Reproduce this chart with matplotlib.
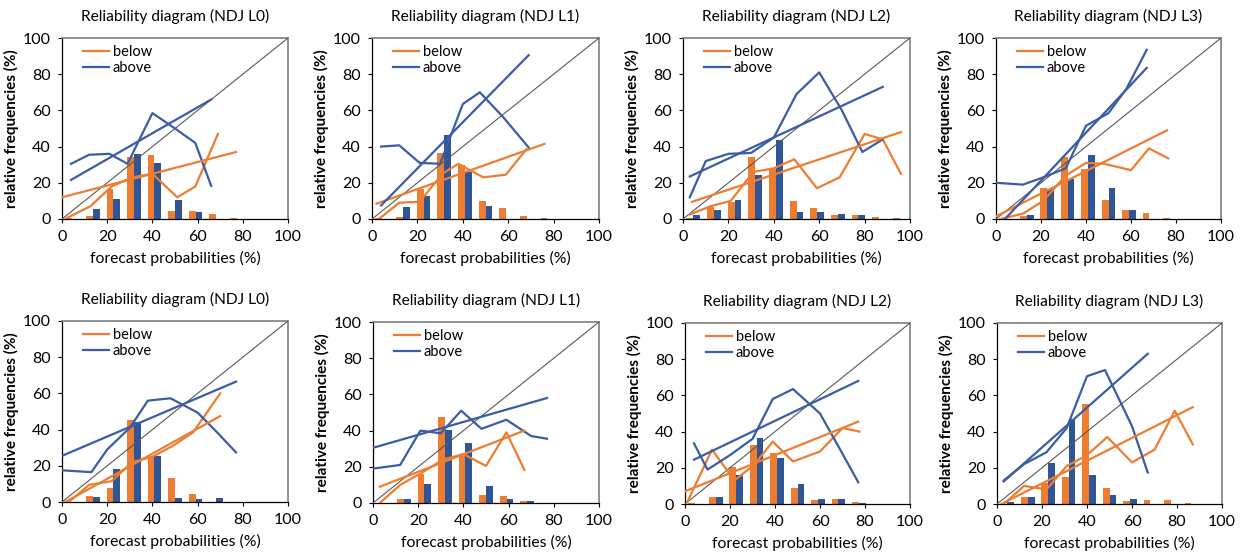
import numpy as np
import matplotlib
matplotlib.use("Agg")
import matplotlib.pyplot as plt

plt.rcParams['font.family'] = ['Lato', 'DejaVu Sans']

# titulos dos paineis (linha de cima e linha de baixo)
titles = ["Reliability diagram (NDJ L0)", "Reliability diagram (NDJ L1)",
          "Reliability diagram (NDJ L2)", "Reliability diagram (NDJ L3)",
          "Reliability diagram (NDJ L0)", "Reliability diagram (NDJ L1)",
          "Reliability diagram (NDJ L2)", "Reliability diagram (NDJ L3)"]

# 11 classes de probabilidade (histograma de frequencia das previsoes, %)
n_bins = 11
bar_below = [
    [0.5, 1.5, 16.5, 34.5, 35.2, 4.6, 4.2, 2.6, 0.7, 0, 0],
    [0.3, 1.1, 16.5, 36.3, 29.9, 10.1, 6.0, 1.8, 0.7, 0, 0],
    [0.7, 6.4, 9.4, 34.5, 27.9, 10.1, 6.0, 2.0, 2.0, 1.1, 0.7],
    [0, 1.5, 17.3, 34.3, 27.4, 10.7, 5.2, 3.3, 0.7, 0, 0],
    [0, 3.3, 7.9, 45.1, 25.4, 13.4, 4.6, 0, 0, 0, 0],
    [0, 2.4, 16.1, 47.7, 26.2, 4.2, 3.9, 0.9, 0, 0, 0],
    [0.7, 4.0, 20.7, 32.8, 28.4, 8.6, 2.2, 2.8, 1.1, 0, 0],
    [0, 3.7, 11.7, 14.7, 55.0, 9.0, 1.7, 2.2, 2.2, 0.7, 0],
]
bar_above = [
    [0, 5.5, 11.0, 36.0, 30.8, 10.6, 3.7, 0, 0, 0, 0],
    [0, 6.6, 12.5, 46.2, 25.7, 7.0, 0, 0, 0, 0, 0],
    [2.0, 4.8, 10.6, 24.4, 43.7, 4.0, 3.7, 2.9, 2.0, 0, 0],
    [0, 2.0, 16.8, 22.3, 35.5, 17.1, 4.8, 0, 0, 0, 0],
    [0, 2.9, 18.0, 44.2, 25.4, 2.4, 1.5, 2.4, 0, 0, 0],
    [0, 2.4, 10.6, 40.4, 33.0, 9.2, 2.4, 1.3, 0, 0, 0],
    [0, 4.0, 15.8, 36.3, 25.5, 11.2, 2.8, 2.8, 0.7, 0, 0],
    [1.0, 4.0, 22.6, 47.0, 15.8, 5.1, 2.8, 0, 0, 0, 0],
]

# curvas de confiabilidade (prob. prevista x frequencia observada)
below_x = [
    [2, 12.5, 22, 31, 40, 51, 59, 69],
    [3, 12, 21, 31, 38, 49, 59, 68],
    [3, 12, 21, 31, 40, 49, 59, 69, 80, 88, 96],
    [2, 12, 21, 31, 40, 48, 60, 68, 76.5],
    [3, 12, 22, 31, 40, 49, 58, 70],
    [3, 12, 22, 31, 40, 50, 59, 67],
    [1, 12, 22, 31, 39, 48, 60, 70, 77.5],
    [3, 12, 22, 31, 40, 49, 60, 70, 79, 87],
]
below_y = [
    [0.5, 7, 18, 23, 25, 12, 18, 47],
    [0, 9, 9.5, 25, 30.5, 23, 24.5, 38.5],
    [2.5, 7, 10, 26, 28, 33, 17, 23, 47, 44, 25],
    [0, 3, 10, 24, 31, 30.5, 27, 39, 33.5],
    [0, 9.5, 11.5, 22, 25, 31, 38.5, 60],
    [0, 10, 17, 24, 27, 20.5, 39, 18.3],
    [1, 30, 13, 22, 34.5, 23.5, 29, 42, 40],
    [0, 10, 8, 21, 27, 37, 23, 30, 51.5, 33],
]
above_x = [
    [4, 12, 21, 29, 40, 50, 59, 66],
    [4, 12, 21, 30, 40, 47.5, 58, 69],
    [3, 10, 20, 30, 40, 50, 60, 70, 79, 88],
    [0, 12, 21, 31, 40, 50, 58, 67],
    [0, 13, 20, 30, 38, 48, 60, 69, 77],
    [0, 12, 21, 30, 39, 48, 59, 70, 77],
    [4, 10, 20, 30, 39, 48, 60, 69, 77],
    [3, 12, 22, 31, 40, 48, 60, 67],
]
above_y = [
    [30.5, 35.5, 36, 30.5, 58.5, 50, 42, 18.3],
    [40, 40.7, 31, 30.5, 63.5, 70, 56, 39.5],
    [12, 32, 36, 36.5, 45, 69, 81, 60, 37, 44],
    [20, 19, 23, 28, 51.5, 58.5, 72, 93.5],
    [17.5, 16.5, 29, 41, 56, 57.3, 49.4, 38, 27.4],
    [19, 21, 40, 38.5, 51, 41, 46, 37, 35.5],
    [33.5, 19, 27, 36, 58, 63.5, 50, 30, 12],
    [13, 22, 28.6, 42, 70.6, 74, 43, 17.4],
]

# retas de regressao (extremos)
fit_below_x = [[0, 77], [2, 76], [4, 96], [0, 76], [1.5, 70], [3, 67], [0, 77], [2, 87]]
fit_below_y = [[12, 37], [8.5, 41.5], [9.5, 48], [1.5, 49], [0, 47.5], [9, 40], [7, 45.5], [0, 53.5]]
fit_above_x = [[4, 66], [4, 69], [3, 88], [4, 67], [0, 77], [0, 77], [4, 77], [3, 67]]
fit_above_y = [[21.6, 66], [7.5, 90.5], [23.5, 73], [0, 83.5], [25.5, 66.5], [30.5, 58], [24.5, 68], [12.5, 83]]

orange = '#ED7D31'
blue = '#2F5597'
line_blue = '#3A5DA5'

W, H = 1244, 558
# caixas dos eixos em pixels (esq, topo, dir, base)
boxes = [(62, 38, 288, 219), (372, 38, 599, 219), (683, 38, 910, 219), (996, 38, 1221, 219),
         (62, 321, 288, 502), (373, 322, 599, 503), (685, 323, 910, 504), (997, 323, 1222, 504)]

fig = plt.figure(figsize=(W / 100, H / 100), dpi=100)

slot = 100 / n_bins
centers = (np.arange(n_bins) + 0.5) * slot
bw = slot / 3

for k in range(8):
    l, t, r, b = boxes[k]
    ax = fig.add_axes([l / W, 1 - b / H, (r - l) / W, (b - t) / H])

    ax.bar(centers - bw / 2, bar_below[k], width=bw, color=orange, zorder=2)
    ax.bar(centers + bw / 2, bar_above[k], width=bw, color=blue, zorder=2)

    ax.plot([0, 100], [0, 100], color='#595959', lw=0.8, zorder=3)
    ax.plot(below_x[k], below_y[k], color=orange, lw=1.6, zorder=4, label='below')
    ax.plot(above_x[k], above_y[k], color=line_blue, lw=1.6, zorder=4, label='above')
    ax.plot(fit_below_x[k], fit_below_y[k], color=orange, lw=1.6, zorder=4)
    ax.plot(fit_above_x[k], fit_above_y[k], color=line_blue, lw=1.6, zorder=4)

    ax.set_xlim(0, 100)
    ax.set_ylim(0, 100)
    ax.set_xticks(range(0, 101, 20))
    ax.set_yticks(range(0, 101, 20))
    ax.tick_params(direction='out', length=3, width=0.8, labelsize=11.5, pad=5, colors='black')
    for s in ['left', 'bottom']:
        ax.spines[s].set_color('black')
        ax.spines[s].set_linewidth(0.9)
    for s in ['top', 'right']:
        ax.spines[s].set_color('#7f7f7f')
        ax.spines[s].set_linewidth(1.2)

    ax.set_title(titles[k], fontsize=11.2, pad=12)
    ax.set_xlabel('forecast probabilities (%)', fontsize=11.3, labelpad=5)
    ax.set_ylabel('relative frequencies (%)', fontsize=11, fontweight='bold', labelpad=3)
    ax.legend(loc='upper left', frameon=False, fontsize=10.5, handlelength=1.8,
              handletextpad=0.25, labelspacing=0.1, borderaxespad=0.1,
              bbox_to_anchor=(0.06, 1.0))

fig.savefig('out.png', dpi=100)
